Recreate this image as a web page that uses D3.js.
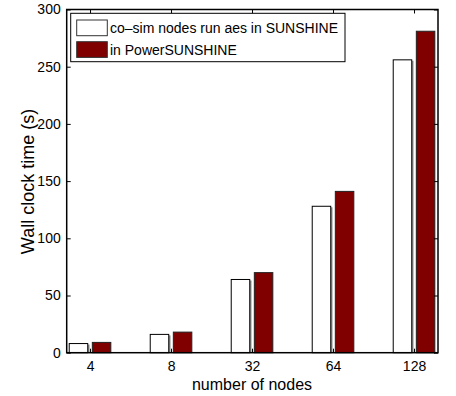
<!DOCTYPE html>
<html>
<head>
<meta charset="utf-8">
<script src="https://cdn.jsdelivr.net/npm/d3@7"></script>
<style>
  body { margin: 0; background: #fff; }
  text { font-family: "Liberation Sans", Arial, sans-serif; fill: #000; }
</style>
</head>
<body>
<div id="chart"></div>
<script>
let categories = ["4", "8", "32", "64", "128"];
let sunshine = [8, 16, 64, 128, 256];
let power = [9, 18, 70, 141, 281];
let yTicks = [0, 50, 100, 150, 200, 250, 300];
let seriesNames = ["co\u2013sim nodes run aes in SUNSHINE", "in PowerSUNSHINE"];
let seriesColors = ["#ffffff", "#800000"];

let width = 456;
let height = 396;
let plotL = 66.7, plotR = 438, plotT = 9.5, plotB = 352.7;

let svg = d3.select("#chart").append("svg")
  .attr("width", width)
  .attr("height", height);

// matlab-ish x limits around the 5 groups
let x = d3.scaleLinear().domain([0.712, 5.296]).range([plotL, plotR]);
let y = d3.scaleLinear().domain([0, 300]).range([plotB, plotT]);

let barW = 18.5, gap = 2.3;

let groups = svg.append("g").selectAll("g")
  .data(categories)
  .enter().append("g");

// white bars (with a grey right edge like the original render)
groups.append("line")
  .attr("x1", (d, i) => x(i + 1) - gap + 1)
  .attr("x2", (d, i) => x(i + 1) - gap + 1)
  .attr("y1", (d, i) => y(sunshine[i]) + 1)
  .attr("y2", y(0))
  .attr("stroke", "#888")
  .attr("stroke-width", 1.5);

groups.append("rect")
  .attr("x", (d, i) => x(i + 1) - gap - barW)
  .attr("y", (d, i) => y(sunshine[i]))
  .attr("width", barW)
  .attr("height", (d, i) => y(0) - y(sunshine[i]))
  .attr("fill", seriesColors[0])
  .attr("stroke", "#000")
  .attr("stroke-width", 1);

groups.append("rect")
  .attr("x", (d, i) => x(i + 1) + gap)
  .attr("y", (d, i) => y(power[i]))
  .attr("width", barW)
  .attr("height", (d, i) => y(0) - y(power[i]))
  .attr("fill", seriesColors[1])
  .attr("stroke", "#222")
  .attr("stroke-width", 1);

// axes: left & bottom with labels, top & right ticks only (inward)
let tickLen = 4;
svg.append("g")
  .attr("transform", "translate(" + plotL + ",0)")
  .call(d3.axisLeft(y).tickValues(yTicks).tickSize(-tickLen).tickPadding(6))
  .call(g => g.select(".domain").remove())
  .selectAll("text").style("font-size", "14px");

svg.append("g")
  .attr("transform", "translate(" + plotR + ",0)")
  .call(d3.axisRight(y).tickValues(yTicks).tickSize(-tickLen).tickFormat(""))
  .call(g => g.select(".domain").remove());

svg.append("g")
  .attr("transform", "translate(0," + plotB + ")")
  .call(d3.axisBottom(x).tickValues([1, 2, 3, 4, 5]).tickSize(-tickLen).tickPadding(8)
    .tickFormat((d) => categories[d - 1]))
  .call(g => g.select(".domain").remove())
  .selectAll("text").style("font-size", "14px");

svg.append("g")
  .attr("transform", "translate(0," + plotT + ")")
  .call(d3.axisTop(x).tickValues([1, 2, 3, 4, 5]).tickSize(-tickLen).tickFormat(""))
  .call(g => g.select(".domain").remove());

svg.append("rect")
  .attr("x", plotL)
  .attr("y", plotT)
  .attr("width", plotR - plotL)
  .attr("height", plotB - plotT)
  .attr("fill", "none")
  .attr("stroke", "#000")
  .attr("stroke-width", 1.5);

svg.selectAll(".tick line").attr("stroke", "#000");

// axis titles
svg.append("text")
  .attr("x", 252)
  .attr("y", 390)
  .attr("text-anchor", "middle")
  .style("font-size", "16px")
  .text("number of nodes");

svg.append("text")
  .attr("transform", "translate(34,181.5) rotate(-90)")
  .attr("text-anchor", "middle")
  .style("font-size", "18px")
  .text("Wall clock time (s)");

// legend
let legend = svg.append("g");
legend.append("rect")
  .attr("x", 70.7).attr("y", 13.3)
  .attr("width", 274.3).attr("height", 48.4)
  .attr("fill", "#fff")
  .attr("stroke", "#000")
  .attr("stroke-width", 1);

let items = legend.selectAll("g.item")
  .data(seriesNames)
  .enter().append("g")
  .attr("transform", (d, i) => "translate(0," + (i * 21.7) + ")");

items.append("rect")
  .attr("x", 76.7).attr("y", 20)
  .attr("width", 30.6).attr("height", 15.7)
  .attr("fill", (d, i) => seriesColors[i])
  .attr("stroke", "#333")
  .attr("stroke-width", 1);

items.append("text")
  .attr("x", 110)
  .attr("y", 33)
  .style("font-size", "14px")
  .text((d) => d);
</script>
</body>
</html>
